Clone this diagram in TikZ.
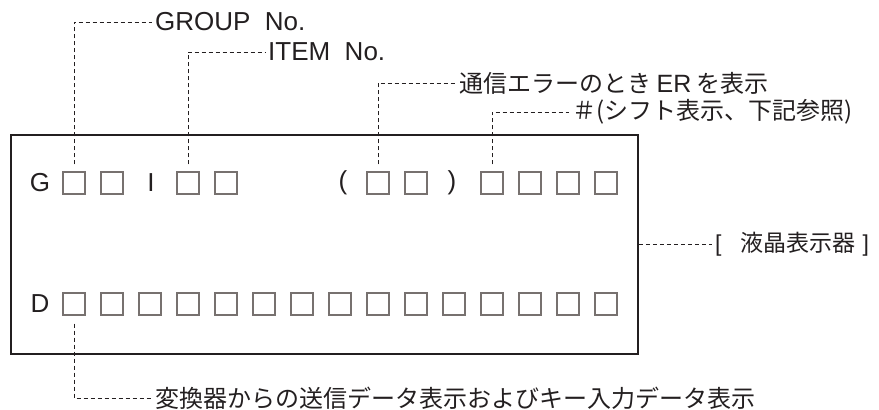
\documentclass[tikz,border=0pt]{standalone}
\usepackage{fontspec}
\setmainfont{Liberation Sans}
\newfontfamily\jp{Noto Sans CJK JP}
\usetikzlibrary{positioning}
\definecolor{ink}{HTML}{231F20}
\definecolor{cellgray}{HTML}{77716F}
\tikzset {
  % one character cell of the display
  cell/.style = {
    draw = cellgray,
    line width = 1.2pt,
    minimum size = 22pt,
    inner sep = 0
  },
  % fixed letters on the display
  char/.style = {
    text = ink,
    font = \fontsize{26}{30}\selectfont,
    inner sep = 0
  },
  % explanation text
  note/.style = {
    text = ink,
    font = \fontsize{26}{30}\selectfont,
    anchor = west,
    inner sep = 3pt
  },
  % japanese explanation text
  jnote/.style = {
    note,
    font = \fontsize{24}{28}\selectfont\jp
  },
  leader/.style = {
    draw = ink,
    line width = 0.8pt,
    dash pattern = on 4pt off 3pt
  },
  panel/.style = {
    draw = ink,
    line width = 1.6pt,
    minimum width = 627pt,
    minimum height = 219pt,
    inner sep = 0
  }
}

\begin{document}
\begin{tikzpicture}[x=1pt, y=-1pt]
    \useasboundingbox (0,0) rectangle (879,410);

    \node[panel] (lcd) at (324.5,244.5) {};

    % upper row
    \node[char] (g-lbl) at (40,183) {G};
    \foreach \i in {0,1,3,4,8,9,11,12,13,14}
      \node[cell] (g\i) at (74+38*\i,183) {};
    \node[char] (i-lbl) at (151,183) {I};
    \node[char] (open) at (343,183) {(};
    \node[char] (close) at (452,183) {)};

    % lower row
    \node[char] (d-lbl) at (40,304) {D};
    \foreach \i in {0,...,14}
      \node[cell] (d\i) at (74+38*\i,304) {};

    % notes
    \node[note] (grp) at (152,22) {GROUP\ \ No.};
    \node[note] (itm) at (265,52) {ITEM\ \ No.};
    \node[jnote] (err) at (456,83) {通信エラーのとき {\fontspec{Liberation Sans}\fontsize{25}{28}\selectfont ER} を表示};
    \node[jnote] (sft) at (569,112) {＃(シフト表示、下記参照)};
    \node[jnote, font = \fontsize{23}{27}\selectfont] (lcd-name) at (712,244.5)
      {[\hspace{19pt}{\jp 液晶表示器}\hspace{7pt}]};
    \node[jnote] (send) at (152,398) {変換器からの送信データ表示およびキー入力データ表示};

    % leaders
    \draw[leader, shorten <=7pt] (g0.north) |- (grp.west);
    \draw[leader, shorten <=7pt] (g3.north) |- (itm.west);
    \draw[leader, shorten <=7pt] (g8.north) |- (err.west);
    \draw[leader, shorten <=7pt] (g11.north) |- (sft.west);
    \draw[leader] (lcd.east) -- (lcd-name.west);
    \draw[leader, shorten <=8pt] (d0.south) |- (send.west);
\end{tikzpicture}
\end{document}
